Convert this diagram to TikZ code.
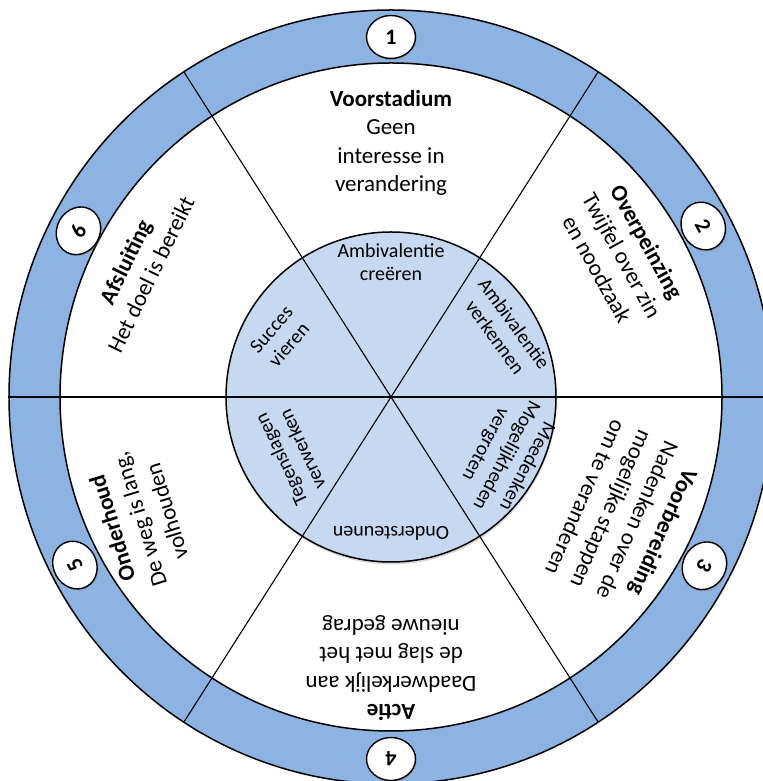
\documentclass[tikz,border=0pt]{standalone}
\usepackage{fontspec}
\setmainfont{Carlito}
\usetikzlibrary{shapes.geometric,shadows}
\definecolor{ringblue}{HTML}{8DB3E2}
\definecolor{coreblue}{HTML}{C6D9F1}
\begin{document}
\begin{tikzpicture}[x=0.5pt,y=0.5pt,
  ringtext/.style={align=center,inner sep=0pt,font=\fontsize{11.5}{14.2}\selectfont},
  coretext/.style={align=center,inner sep=0pt,font=\fontsize{10}{11.7}\selectfont},
  numbadge/.style={ellipse,draw=black,line width=0.7pt,fill=white,
    minimum width=24.5pt,minimum height=21.5pt,inner sep=0pt,
    font=\fontsize{11}{13}\selectfont\bfseries,
    drop shadow={shadow xshift=0.6pt,shadow yshift=-0.8pt,opacity=0.35}},
  divider/.style={draw=black,line width=0.55pt},
  rim/.style={draw=black,line width=0.75pt}]
\useasboundingbox (0,0) rectangle (763,781);
\clip (0,0) rectangle (763,781);
\fill[white] (0,0) rectangle (763,781);
\coordinate (C) at (391,384);
\begin{scope}[shift={(C)}]
  % rings
  \draw[rim,fill=ringblue] (0,0) ellipse [x radius=382,y radius=387];
  \draw[rim,fill=white] (0,0) ellipse [x radius=331,y radius=334];
  \draw[rim,fill=coreblue,drop shadow={shadow xshift=0.4pt,shadow yshift=-1.2pt,opacity=0.3}] (0,0) circle [radius=165];
  % divider end points
  \coordinate (o) at (0,0);
  \coordinate (e0) at (0:383);
  \coordinate (e180) at (180:383);
  \coordinate (e1) at (57.5:385);
  \coordinate (e2) at (122.5:385);
  \coordinate (e3) at (237.5:385);
  \coordinate (e4) at (302.5:385);
  \draw[divider] (e180) -- (e0);
  \draw[divider] (e3) -- (e1);
  \draw[divider] (e4) -- (e2);
  % number badges
  \node[numbadge] (n1) at (90:360) {1};
  \node[numbadge,rotate=-61] (n2) at (28.7:356) {2};
  \node[numbadge,rotate=-119] (n3) at (-28.3:356) {3};
  \node[numbadge,rotate=180] (n4) at (-90:362) {4};
  \node[numbadge,rotate=119] (n5) at (208:358) {5};
  \node[numbadge,rotate=61] (n6) at (152:354) {6};
  % stage texts
  \node[ringtext] (t1) at (90:254) {\textbf{Voorstadium}\\Geen\\interesse in\\verandering};
  \node[ringtext,rotate=-61] (t2) at (31.5:271) {\textbf{Overpeinzing}\\Twijfel over zin\\en noodzaak};
  \node[ringtext,rotate=-114] (t3) at (-26.8:262) {\textbf{Voorbereiding}\\Nadenken over de\\mogelijke stappen\\om te veranderen};
  \node[ringtext,rotate=180] (t4) at (-90:271) {\textbf{Actie}\\Daadwerkelijk aan\\de slag met het\\nieuwe gedrag};
  \node[ringtext,rotate=107] (t5) at (206:280) {\textbf{Onderhoud}\\De weg is lang,\\volhouden};
  \node[ringtext,rotate=64] (t6) at (153:284) {\textbf{Afsluiting}\\Het doel is bereikt};
  % core texts
  \node[coretext] (c1) at (90:135) {Ambivalentie\\creëren};
  \node[coretext,rotate=-54] (c2) at (30.4:132) {Ambivalentie\\verkennen};
  \node[coretext,rotate=-118] (c3) at (-26.8:129) {Meedenken\\Mogelijkheden\\vergroten};
  \node[coretext,rotate=180] (c4) at (-90:136) {Ondersteunen};
  \node[coretext,rotate=115] (c5) at (210:115) {Tegenslagen\\verwerken};
  \node[coretext,rotate=49] (c6) at (151.6:126) {Succes\\vieren};
\end{scope}
\end{tikzpicture}
\end{document}
